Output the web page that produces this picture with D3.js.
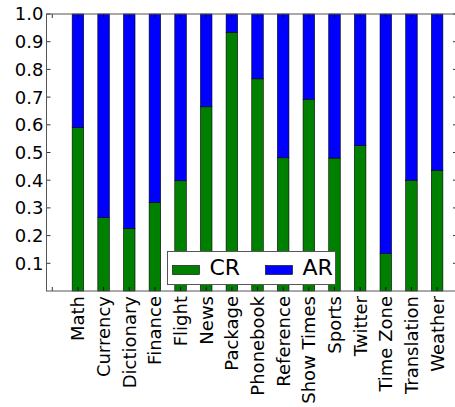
<!DOCTYPE html>
<html>
<head>
<meta charset="utf-8">
<script src="https://cdn.jsdelivr.net/npm/d3@7"></script>
<style>
  body { margin: 0; background: #fff; }
  text { font-family: "DejaVu Sans", sans-serif; fill: #000; }
</style>
</head>
<body>
<div id="chart"></div>
<script>
// data
var categories = ["Math", "Currency", "Dictionary", "Finance", "Flight", "News", "Package",
  "Phonebook", "Reference", "Show Times", "Sports", "Twitter", "Time Zone", "Translation", "Weather"];
var crValues = [0.590, 0.265, 0.226, 0.320, 0.398, 0.665, 0.934, 0.766, 0.481, 0.692, 0.480, 0.525, 0.135, 0.400, 0.436];
var arValues = [0.410, 0.735, 0.774, 0.680, 0.602, 0.335, 0.066, 0.234, 0.519, 0.308, 0.520, 0.475, 0.865, 0.600, 0.564];
var yTicks = [0.1, 0.2, 0.3, 0.4, 0.5, 0.6, 0.7, 0.8, 0.9, 1.0];
var seriesNames = ["CR", "AR"];
var seriesColors = ["#008000", "#0000ff"];

// 1: dimensions
var margin = {top: 14, right: 0, bottom: 116, left: 46.5};
var width = 455, height = 407;
var plotW = 410.5, plotH = height - margin.top - margin.bottom;
var barW = 0.45;

var svg = d3.select("#chart").append("svg")
    .attr("width", width)
    .attr("height", height);
var g = svg.append("g")
    .attr("transform", "translate(" + margin.left + "," + margin.top + ")");

// 2: scales
var x = d3.scaleLinear().domain([0, 16]).range([0, plotW]);
var y = d3.scaleLinear().domain([0, 1]).range([plotH, 0]);

// 3: bars (stacked)
var rows = categories.map(function(c, i) {
  return {name: c, pos: i + 1, cr: crValues[i], ar: arValues[i]};
});
var stack = d3.stack().keys(["cr", "ar"])(rows);

g.selectAll("g.series").data(stack).enter().append("g")
    .attr("class", "series")
    .attr("fill", function(d, i) { return seriesColors[i]; })
  .selectAll("rect").data(function(d) { return d; }).enter().append("rect")
    .attr("x", function(d) { return x(d.data.pos); })
    .attr("width", x(barW) - x(0))
    .attr("y", function(d) { return y(d[1]); })
    .attr("height", function(d) { return y(d[0]) - y(d[1]); })
    .attr("stroke", "#000")
    .attr("stroke-width", 0.6);

// 4: ticks (inward, on all sides)
var tickLen = 4;
var xTickPos = d3.range(0, 16).map(function(i) { return i + barW / 2; });
var xLabels = [""].concat(categories);

g.selectAll("line.xtb").data(xTickPos).enter().append("line")
    .attr("x1", function(d) { return x(d); }).attr("x2", function(d) { return x(d); })
    .attr("y1", plotH).attr("y2", plotH - tickLen)
    .attr("stroke", "#000").attr("stroke-width", 0.8);
g.selectAll("line.xtt").data(xTickPos).enter().append("line")
    .attr("x1", function(d) { return x(d); }).attr("x2", function(d) { return x(d); })
    .attr("y1", 0).attr("y2", tickLen)
    .attr("stroke", "#000").attr("stroke-width", 0.8);
g.selectAll("line.ytl").data(yTicks).enter().append("line")
    .attr("x1", 0).attr("x2", tickLen)
    .attr("y1", function(d) { return y(d); }).attr("y2", function(d) { return y(d); })
    .attr("stroke", "#000").attr("stroke-width", 0.8);
g.selectAll("line.ytr").data(yTicks).enter().append("line")
    .attr("x1", plotW).attr("x2", plotW - tickLen)
    .attr("y1", function(d) { return y(d); }).attr("y2", function(d) { return y(d); })
    .attr("stroke", "#000").attr("stroke-width", 0.8);

// 5: tick labels
g.selectAll("text.ylab").data(yTicks).enter().append("text")
    .attr("x", -3)
    .attr("y", function(d) { return y(d); })
    .attr("dy", "0.36em")
    .attr("text-anchor", "end")
    .style("font-size", "18px")
    .text(function(d) { return d.toFixed(1); });

g.selectAll("text.xlab").data(xTickPos).enter().append("text")
    .attr("transform", function(d) { return "translate(" + x(d) + "," + (plotH + 5) + ")rotate(-90)"; })
    .attr("dy", "0.36em")
    .attr("text-anchor", "end")
    .style("font-size", "18px")
    .text(function(d, i) { return xLabels[i]; });

// 6: frame
g.append("rect")
    .attr("x", 0).attr("y", 0)
    .attr("width", plotW).attr("height", plotH)
    .attr("fill", "none")
    .attr("stroke", "#555").attr("stroke-width", 1);

// 7: legend
var legend = svg.append("g").attr("transform", "translate(167.5,251.5)");
legend.append("rect")
    .attr("width", 168).attr("height", 33)
    .attr("fill", "#fff").attr("stroke", "#555").attr("stroke-width", 1);
var items = legend.selectAll("g.item").data(seriesNames).enter().append("g")
    .attr("transform", function(d, i) { return "translate(" + (5 + i * 93) + ",0)"; });
items.append("rect")
    .attr("y", 14).attr("width", 27).attr("height", 9)
    .attr("fill", function(d, i) { return seriesColors[i]; })
    .attr("stroke", "#000").attr("stroke-width", 0.6);
items.append("text")
    .attr("x", 37).attr("y", 23)
    .style("font-size", "22px")
    .text(function(d) { return d; });
</script>
</body>
</html>
